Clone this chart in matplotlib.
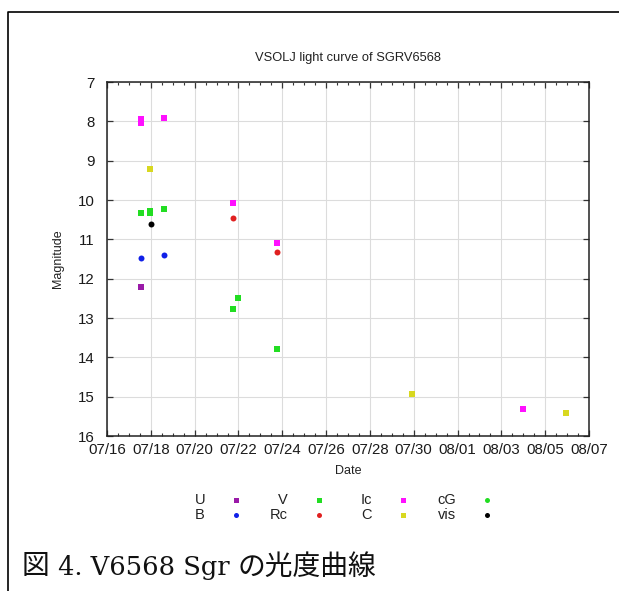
import matplotlib
matplotlib.use("Agg")
import matplotlib.pyplot as plt
import matplotlib.dates as mdates
from matplotlib.lines import Line2D
from matplotlib.text import Annotation
from datetime import datetime, timedelta

plt.rcParams['font.family'] = ['Liberation Sans', 'DejaVu Sans']

YEAR = 2020

U_t = ["07/17.55"]
U_mag = [12.22]
B_t = ["07/17.55", "07/18.62"]
B_mag = [11.47, 11.41]
V_t = ["07/17.55", "07/17.95", "07/17.98", "07/18.62", "07/21.75", "07/21.97", "07/23.76"]
V_mag = [10.34, 10.34, 10.29, 10.24, 12.78, 12.50, 13.78]
Rc_t = ["07/21.75", "07/23.78"]
Rc_mag = [10.46, 11.32]
Ic_t = ["07/17.55", "07/17.55", "07/18.62", "07/21.75", "07/23.78", "08/03.98"]
Ic_mag = [7.93, 8.03, 7.91, 10.07, 11.10, 15.31]
C_t = ["07/17.98", "07/29.90", "08/05.93"]
C_mag = [9.20, 14.92, 15.41]
cG_t = []
cG_mag = []
vis_t = ["07/18.00"]
vis_mag = [10.61]

x_start = "07/16.0"
x_end = "08/07.0"
y_top, y_bottom = 7, 16


def to_date(s):
    md, frac = s.split(".")
    m, d = md.split("/")
    return datetime(YEAR, int(m), int(d)) + timedelta(days=float("0." + frac))


# name, times, mags, colour, marker   (order = legend column order)
bands = [
    ("U", U_t, U_mag, "#9a1aa8", "s"),
    ("B", B_t, B_mag, "#1020e8", "o"),
    ("V", V_t, V_mag, "#22dd22", "s"),
    ("Rc", Rc_t, Rc_mag, "#e02020", "o"),
    ("Ic", Ic_t, Ic_mag, "#ff10ff", "s"),
    ("C", C_t, C_mag, "#d8d820", "s"),
    ("cG", cG_t, cG_mag, "#22dd22", "o"),
    ("vis", vis_t, vis_mag, "#000000", "o"),
]

W, H = 619, 591
fig = plt.figure(figsize=(W / 100, H / 100), dpi=100)

# page frame (top and left edge)
fig.add_artist(Line2D([8 / W, 8 / W, 1.0], [0.0, 1 - 12 / H, 1 - 12 / H],
                      color="black", lw=1.2))

ax = fig.add_axes([107 / W, 1 - 436 / H, (589 - 107) / W, (436 - 82) / H])

for name, t, mag, col, mk in bands:
    if t:
        ax.plot([to_date(s) for s in t], mag, linestyle="none", marker=mk,
                color=col, markersize=4.3, markeredgewidth=0)

ax.set_xlim(to_date(x_start), to_date(x_end))
ax.set_ylim(y_bottom, y_top)
ax.xaxis.set_major_locator(mdates.DayLocator(interval=2))
ax.xaxis.set_minor_locator(mdates.HourLocator(byhour=[0, 12]))
ax.xaxis.set_major_formatter(mdates.DateFormatter("%m/%d"))
ax.set_yticks(range(y_top, y_bottom + 1))

ax.grid(True, which="major", color="#dcdcdc", lw=0.8)
ax.tick_params(which="both", direction="in", top=True, right=True,
               labelsize=10.8, color="#333333", labelcolor="#1a1a1a")
ax.tick_params(which="major", length=4, width=0.9, pad=5)
ax.tick_params(which="minor", length=2.5, width=0.8)
ax.tick_params(axis="y", which="major", pad=9)
for sp in ax.spines.values():
    sp.set_linewidth(1.1)
    sp.set_color("#222222")

ax.set_title("VSOLJ light curve of SGRV6568", fontsize=9.3, pad=15, color="#222222")
ax.set_xlabel("Date", fontsize=9, color="#222222")
ax.xaxis.set_label_coords(0.5, -(465 - 436) / (436 - 82))
ax.set_ylabel("Magnitude", fontsize=9, color="#222222")
ax.yaxis.set_label_coords(-(107 - 64) / (589 - 107), 0.5)

# key below the plot, gnuplot style: label right-aligned, then the symbol
marker_x = [236, 319, 403, 487]
row_y = [500, 515]
for i, (name, t, mag, col, mk) in enumerate(bands):
    cx = marker_x[i // 2]
    ry = row_y[i % 2]
    fig.text((cx - 31) / W, 1 - ry / H, name, ha="right", va="center",
             fontsize=10.5, color="#222222")
    fig.add_artist(Line2D([cx / W], [1 - ry / H], linestyle="none", marker=mk,
                          color=col, markersize=3.6, markeredgewidth=0))

# caption: Japanese glyphs plus a serif for the Latin part
cap_fam = ["DejaVu Serif", "Noto Sans CJK JP"]
t1 = fig.text(22 / W, 1 - 567 / H, "図", family=cap_fam, fontsize=20,
              ha="left", va="center", color="#111111")
t2 = fig.add_artist(Annotation(" 4. V6568 Sgr ", xy=(1.0, 0.5), xycoords=t1,
                               family=cap_fam, fontsize=18.5, va="center",
                               ha="left", color="#111111"))
t3 = fig.add_artist(Annotation("の光度曲線", xy=(1.0, 0.5), xycoords=t2,
                               family=cap_fam, fontsize=20, va="center",
                               ha="left", color="#111111"))

fig.savefig("out.png", dpi=100)
